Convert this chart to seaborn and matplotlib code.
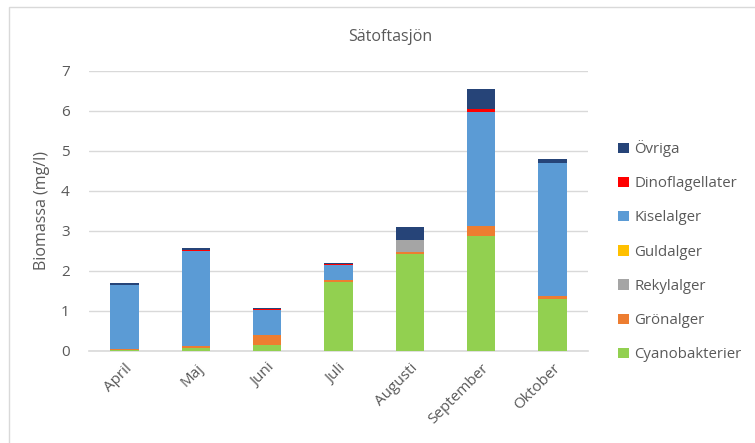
import matplotlib
matplotlib.use("Agg")
import matplotlib.pyplot as plt
import matplotlib.patches as mpatches
import numpy as np
import pandas as pd
import seaborn as sns

months = ["April", "Maj", "Juni", "Juli", "Augusti", "September", "Oktober"]

# Biomass per group (mg/l), bottom of stack first
cyanobakterier = [0.03, 0.07, 0.15, 1.72, 2.43, 2.87, 1.29]
gronalger      = [0.02, 0.05, 0.26, 0.05, 0.05, 0.25, 0.08]
rekylalger     = [0.00, 0.00, 0.00, 0.00, 0.29, 0.00, 0.00]
guldalger      = [0.00, 0.00, 0.00, 0.00, 0.00, 0.00, 0.00]
kiselalger     = [1.59, 2.38, 0.61, 0.38, 0.00, 2.86, 3.32]
dinoflagellater = [0.00, 0.03, 0.02, 0.03, 0.00, 0.08, 0.00]
ovriga         = [0.07, 0.05, 0.04, 0.03, 0.32, 0.48, 0.10]

groups = ["Cyanobakterier", "Grönalger", "Rekylalger", "Guldalger",
          "Kiselalger", "Dinoflagellater", "Övriga"]
values = [cyanobakterier, gronalger, rekylalger, guldalger,
          kiselalger, dinoflagellater, ovriga]
colors = ["#92D050", "#ED7D31", "#A5A5A5", "#FFC000",
          "#5B9BD5", "#FF0000", "#264478"]

sns.set_theme(style="white")
plt.rcParams["font.family"] = ["Open Sans", "DejaVu Sans"]
text_col = "#595959"

fig = plt.figure(figsize=(7.55, 4.43), dpi=100)
ax = fig.add_axes([89 / 755, 1 - 351 / 443, (588 - 89) / 755, (351 - 71) / 443])

# cumulative totals, drawn from the top layer down so each layer shows its slice
cum = np.cumsum(np.array(values), axis=0)
for i in range(len(groups) - 1, -1, -1):
    df = pd.DataFrame({"Månad": months, "Biomassa": cum[i]})
    sns.barplot(data=df, x="Månad", y="Biomassa", color=colors[i],
                width=0.4, saturation=1, linewidth=0,
                ax=ax, zorder=3)

ax.set_ylim(0, 7)
ax.set_xlim(-0.5, 6.5)
ax.set_yticks(range(0, 8))
ax.yaxis.grid(True, color="#D9D9D9", linewidth=1.0, zorder=0)
ax.set_axisbelow(True)
for s in ["top", "right", "left"]:
    ax.spines[s].set_visible(False)
ax.spines["bottom"].set_color("#D9D9D9")
ax.spines["bottom"].set_linewidth(1.2)

ax.tick_params(axis="y", length=0, pad=14, labelsize=11, labelcolor=text_col)
ax.tick_params(axis="x", length=0, pad=7, labelsize=11, labelcolor=text_col)
plt.setp(ax.get_xticklabels(), rotation=45, ha="right", rotation_mode="anchor")

ax.set_xlabel("")
ax.set_ylabel("Biomassa (mg/l)", fontsize=11.5, color=text_col, labelpad=8)
fig.text(390 / 755, 1 - 37 / 443, "Sätoftasjön", ha="center", va="center",
         fontsize=11.5, color=text_col)

handles = [mpatches.Patch(facecolor=colors[i], edgecolor="none", label=groups[i])
           for i in range(len(groups) - 1, -1, -1)]
leg = fig.legend(handles=handles, loc="upper left",
                 bbox_to_anchor=(612 / 755, 1 - 134 / 443), frameon=False,
                 fontsize=10.8, handlelength=0.7, handleheight=0.7,
                 handletextpad=0.4, labelspacing=1.28, borderaxespad=0)
for t in leg.get_texts():
    t.set_color(text_col)

# chart area border
fig.patches.append(mpatches.Rectangle((9 / 755, -0.1), 1.2, 1 - 7 / 443 + 0.1,
                                      transform=fig.transFigure, fill=False,
                                      edgecolor="#D9D9D9", linewidth=1.0))

fig.savefig("out.png", dpi=100)
